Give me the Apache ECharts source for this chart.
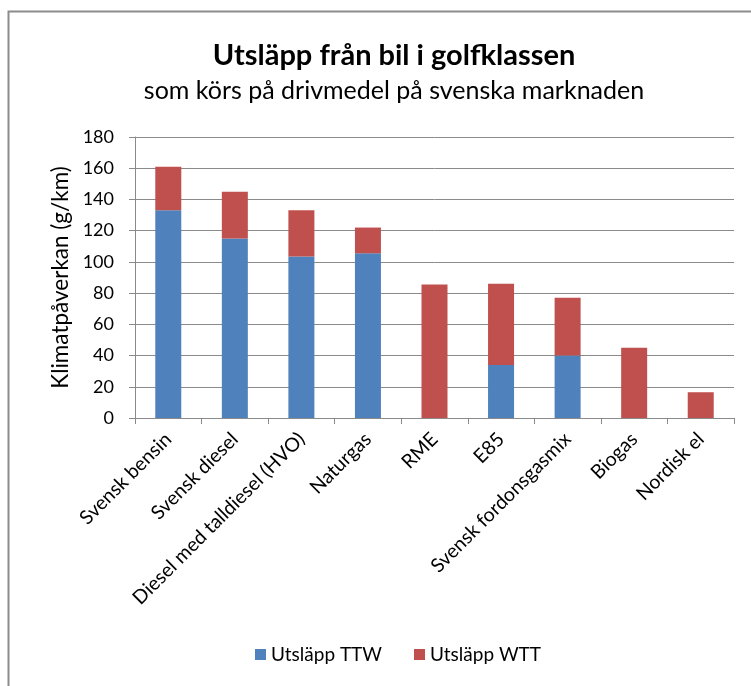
<!DOCTYPE html>
<html>
<head>
<meta charset="utf-8">
<script src="https://cdn.jsdelivr.net/npm/echarts@6/dist/echarts.min.js"></script>
<style>
  html, body { margin: 0; padding: 0; background: #fff; }
  #chart { width: 751px; height: 686px; }
</style>
</head>
<body>
<div id="chart"></div>
<script>
// Fuel categories and emissions (g/km), split into tank-to-wheel and well-to-tank parts
const categories = ['Svensk bensin', 'Svensk diesel', 'Diesel med talldiesel (HVO)', 'Naturgas', 'RME', 'E85', 'Svensk fordonsgasmix', 'Biogas', 'Nordisk el'];
const ttw = [133, 115, 103.5, 105.5, 0, 34, 40, 0, 0];
const wtt = [28, 30, 29.5, 16.5, 85.5, 52, 37, 45, 16.5];
const yTicks = { min: 0, max: 180, step: 20 };

const FONT = 'Lato, "Open Sans", sans-serif';
const GRID_COLOR = '#8a8a8a';

const chart = echarts.init(document.getElementById('chart'));
chart.setOption({
  animation: false,
  textStyle: { fontFamily: FONT, color: '#000' },
  title: {
    text: 'Utsläpp från bil i golfklassen',
    subtext: 'som körs på drivmedel på svenska marknaden',
    left: 389,
    textAlign: 'center',
    top: 36,
    itemGap: 8,
    textStyle: { fontFamily: FONT, fontSize: 29, fontWeight: 'bold', color: '#000' },
    subtextStyle: { fontFamily: FONT, fontSize: 25, color: '#000' }
  },
  graphic: [{
    type: 'rect',
    shape: { x: 8.5, y: 11.5, width: 800, height: 720 },
    style: { fill: 'none', stroke: '#8c8c8c', lineWidth: 2 },
    silent: true
  }],
  legend: {
    bottom: 17,
    left: 250,
    icon: 'rect',
    itemWidth: 11,
    itemHeight: 11,
    itemGap: 32,
    itemStyle: { borderWidth: 0 },
    textStyle: { fontFamily: FONT, fontSize: 19, color: '#000' },
    data: ['Utsläpp TTW', 'Utsläpp WTT']
  },
  grid: { left: 135, right: 17, top: 137, bottom: 268 },
  xAxis: {
    type: 'category',
    data: categories,
    axisLine: { lineStyle: { color: GRID_COLOR, width: 1 } },
    axisTick: { show: true, length: 6, lineStyle: { color: GRID_COLOR } },
    axisLabel: { rotate: 45, interval: 0, margin: 18, fontFamily: FONT, fontSize: 19.5, color: '#000' }
  },
  yAxis: {
    type: 'value',
    min: yTicks.min,
    max: yTicks.max,
    interval: yTicks.step,
    name: 'Klimatpåverkan (g/km)',
    nameLocation: 'middle',
    nameGap: 61,
    nameRotate: 90,
    nameTextStyle: { fontFamily: FONT, fontSize: 22.5, color: '#000' },
    axisLine: { show: true, lineStyle: { color: GRID_COLOR, width: 1 } },
    axisTick: { show: true, length: 6, lineStyle: { color: GRID_COLOR } },
    axisLabel: { margin: 21, fontFamily: FONT, fontSize: 18, color: '#000' },
    splitLine: { lineStyle: { color: GRID_COLOR, width: 1 } }
  },
  series: [
    {
      name: 'Utsläpp TTW',
      type: 'bar',
      stack: 'total',
      barWidth: 26,
      itemStyle: { color: '#4F81BD' },
      data: ttw
    },
    {
      name: 'Utsläpp WTT',
      type: 'bar',
      stack: 'total',
      barWidth: 26,
      itemStyle: { color: '#C0504D' },
      data: wtt
    }
  ]
});
</script>
</body>
</html>
